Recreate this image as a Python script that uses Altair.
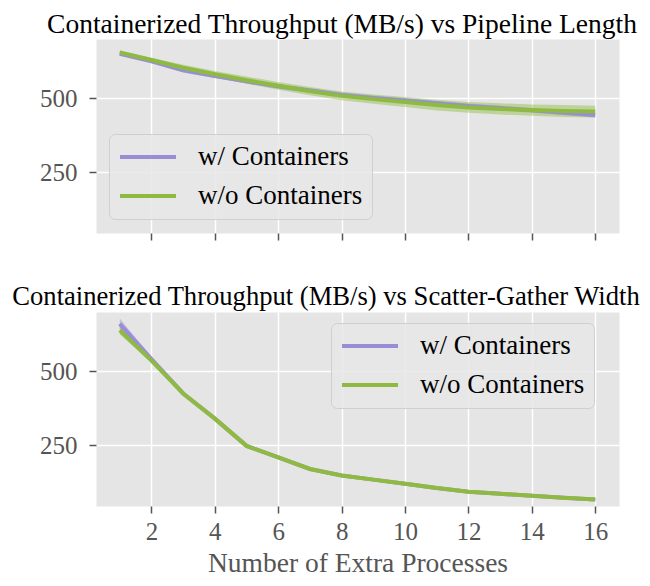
import altair as alt
import pandas as pd

# ---------------- data ----------------
x_vals = list(range(1, 17))
series_names = ["w/ Containers", "w/o Containers"]

# Pipeline length panel
pipe_with = [650, 625, 594, 575, 557, 540, 526, 511, 501, 492, 483, 474, 467, 459, 451, 443]
pipe_with_err = [6, 6, 7, 7, 7, 8, 8, 8, 8, 8, 8, 8, 8, 8, 8, 8]
pipe_without = [655, 629, 603, 581, 561, 542, 524, 508, 497, 487, 477, 469, 464, 460, 457, 455]
pipe_without_err = [6, 8, 10, 11, 12, 13, 14, 15, 16, 17, 18, 18, 19, 19, 20, 20]

# Scatter-gather width panel
sg_with = [660, 541, 425, 340, 248, 209, 170, 148, 134, 120, 106, 93, 86, 80, 73, 67]
sg_with_err = [18, 8, 3, 2, 2, 2, 2, 2, 2, 2, 2, 2, 2, 2, 2, 2]
sg_without = [638, 536, 425, 340, 248, 209, 170, 148, 134, 120, 106, 93, 86, 80, 73, 67]
sg_without_err = [14, 7, 3, 2, 2, 2, 2, 2, 2, 2, 2, 2, 2, 2, 2, 2]

x_ticks = [2, 4, 6, 8, 10, 12, 14, 16]
y_ticks = [250, 500]

PURPLE = "#988ED5"
GREEN = "#8EBA42"
FONT = "Liberation Serif"


def make_df(with_vals, with_err, without_vals, without_err):
    rows = []
    for name, vals, errs in [(series_names[0], with_vals, with_err),
                             (series_names[1], without_vals, without_err)]:
        for x, v, e in zip(x_vals, vals, errs):
            rows.append({"x": x, "y": v, "lo": v - e, "hi": v + e, "series": name})
    return pd.DataFrame(rows)


def panel(df, title, title_size, title_dx, show_labels, legend_x, legend_y):
    if show_labels:
        xaxis = alt.Axis(values=x_ticks, grid=True, labels=True,
                         title="Number of Extra Processes")
    else:
        xaxis = alt.Axis(values=x_ticks, grid=True, labels=False, title=None,
                         minExtent=8, maxExtent=8)
    xenc = alt.X("x:Q", scale=alt.Scale(domain=[0.25, 16.75], nice=False, zero=False), axis=xaxis)
    yenc = alt.Y("y:Q", scale=alt.Scale(domain=[45, 700], nice=False, zero=False),
                 axis=alt.Axis(values=y_ticks, title=None))
    band = alt.Chart(df).mark_area(opacity=0.45).encode(
        x=xenc,
        y=alt.Y("lo:Q", scale=alt.Scale(domain=[45, 700], nice=False, zero=False),
                axis=alt.Axis(values=y_ticks, title=None)),
        y2="hi:Q",
        fill=alt.Fill("series:N", scale=alt.Scale(domain=series_names, range=[PURPLE, GREEN]), legend=None),
        detail="series:N",
    )
    line = alt.Chart(df).mark_line(strokeWidth=4).encode(
        x=xenc,
        y=yenc,
        color=alt.Color("series:N", scale=alt.Scale(domain=series_names, range=[PURPLE, GREEN]),
                        legend=alt.Legend(title=None, orient="none", legendX=legend_x, legendY=legend_y,
                                          labelExpr="datum.label + '\u2003'")),
    )
    return alt.layer(band, line).properties(
        width=523, height=194,
        title=alt.TitleParams(title, dx=title_dx, fontSize=title_size),
    ).resolve_scale(fill="independent")


top_df = make_df(pipe_with, pipe_with_err, pipe_without, pipe_without_err)
bot_df = make_df(sg_with, sg_with_err, sg_without, sg_without_err)

top = panel(top_df, "Containerized Throughput (MB/s) vs Pipeline Length", 27.5, -15.5, False, 13, 95)
bot = panel(bot_df, "Containerized Throughput (MB/s) vs Scatter-Gather Width", 26.6, -31.5, True, 235, 11)

chart = alt.vconcat(top, bot, spacing=41).resolve_legend(color="independent").resolve_scale(
    color="independent", fill="independent"
).configure(
    padding={"left": 0, "top": 2, "right": 0, "bottom": 0},
).configure_view(
    fill="#E5E5E5", stroke="transparent"
).configure_axis(
    domain=False, gridColor="white", gridWidth=1.5,
    tickColor="#555555", tickSize=7, tickWidth=1.5,
    labelColor="#555555", labelFont=FONT, labelFontSize=25, labelPadding=6,
    titleColor="#555555", titleFont=FONT, titleFontSize=27.5, titleFontWeight="normal",
    titlePadding=5,
).configure_axisY(
    minExtent=87, maxExtent=87, labelPadding=12,
).configure_title(
    font=FONT, fontWeight="normal", color="black", offset=1,
).configure_legend(
    fillColor="rgba(232,232,232,0.85)", strokeColor="#CFCFCF", cornerRadius=6,
    padding=9, labelFont=FONT, labelFontSize=27, labelColor="black", labelLimit=400,
    symbolType="stroke", symbolSize=3136, symbolStrokeWidth=4, labelOffset=20,
    rowPadding=11, clipHeight=28,
)

chart.save("out.html", embed_options={"renderer": "svg", "actions": False})
